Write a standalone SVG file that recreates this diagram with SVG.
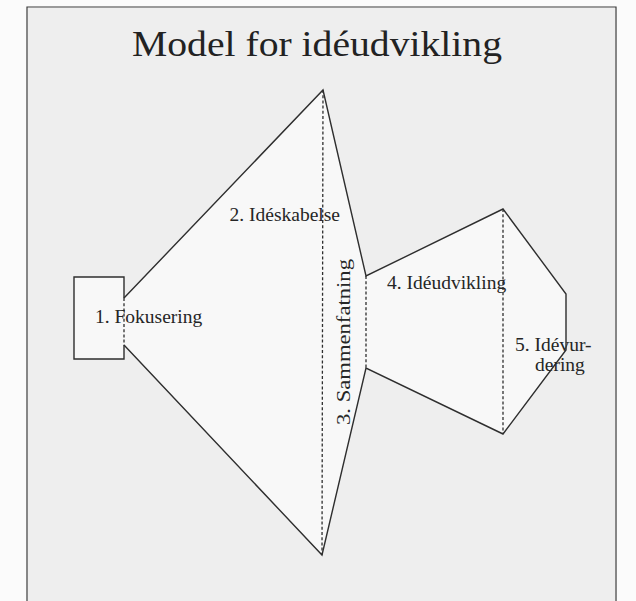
<svg xmlns="http://www.w3.org/2000/svg" width="636" height="601" viewBox="0 0 636 601">
  <style>
    .area { fill: #f8f8f8; stroke: none; }
    .edge { fill: none; stroke: #2e2e2e; stroke-width: 1.4; stroke-linejoin: miter; }
    .div { fill: none; stroke: #2e2e2e; stroke-width: 1.3; stroke-dasharray: 3 2.2; }
    .lbl { font-family: "Liberation Serif", "Times New Roman", serif; font-size: 19.5px; fill: #262626; }
    .title { font-family: "Liberation Serif", "Times New Roman", serif; font-size: 35px; fill: #222; }
  </style>
  <rect x="0" y="0" width="636" height="601" fill="#fbfbfb"/>
  <rect x="28" y="8" width="587" height="593" fill="#eeeeee"/>
  <path d="M27 601 L27 7 L616 7 L616 601" fill="none" stroke="#3a3a3a" stroke-width="1.2"/>

  <g id="title">
    <text class="title" x="317" y="56" text-anchor="middle" textLength="370" lengthAdjust="spacingAndGlyphs">Model for idéudvikling</text>
  </g>

  <g id="stage2">
    <polygon class="area" points="124,298 323,90 322,555 124,345"/>
  </g>
  <g id="stage3">
    <polygon class="area" points="323,90 366,276 366,368 322,555"/>
  </g>
  <g id="stage4">
    <polygon class="area" points="366,276 503,209 503,434 366,368"/>
  </g>
  <g id="stage5">
    <polygon class="area" points="503,209 566,294 566,350 503,434"/>
  </g>
  <g id="stage1">
    <rect class="area" x="74" y="277" width="50" height="82"/>
  </g>

  <g id="connectors">
    <path class="edge" d="M124 298 L124 277 L74 277 L74 359 L124 359 L124 345"/>
    <path class="edge" d="M124 298 L323 90 L366 276 L503 209 L566 294 L566 350 L503 434 L366 368 L322 555 L124 345"/>
    <path class="div" d="M124 298 L124 345"/>
    <path class="div" d="M323 90 L322 555"/>
    <path class="div" d="M366 276 L366 368"/>
    <path class="div" d="M503 209 L503 434"/>
  </g>

  <g id="labels">
    <text id="label1" class="lbl" x="95" y="323">1. Fokusering</text>
    <text id="label2" class="lbl" x="340" y="221" text-anchor="end">2. Idéskabelse</text>
    <text id="label3" class="lbl" transform="translate(350,342) rotate(-90)" text-anchor="middle" textLength="166" lengthAdjust="spacingAndGlyphs">3. Sammenfatning</text>
    <text id="label4" class="lbl" x="387" y="289">4. Idéudvikling</text>
    <text id="label5" class="lbl" x="515" y="351">5. Idévur-</text>
    <text id="label5b" class="lbl" x="535" y="371">dering</text>
  </g>
</svg>
